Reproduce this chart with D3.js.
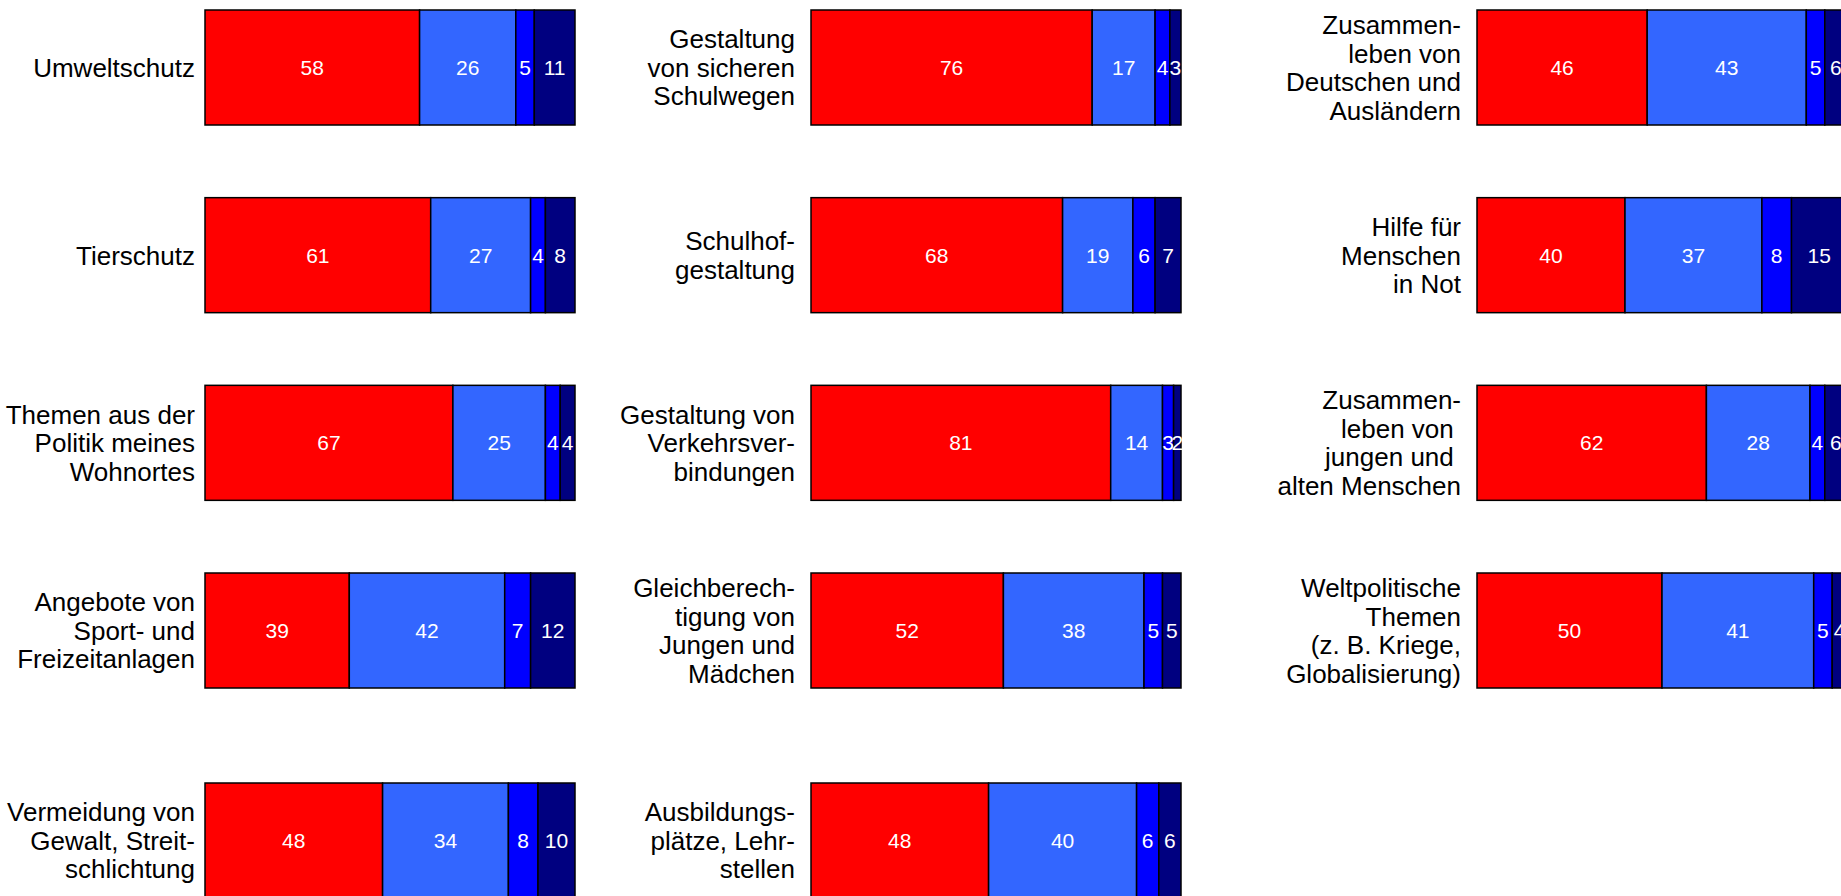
<!DOCTYPE html>
<html lang="de">
<head>
    <meta charset="UTF-8">
    <title>Themen</title>
    <style>
        html, body {
            margin: 0;
            padding: 0;
            background: #fff;
            overflow: hidden;
        }

        text {
            font-family: "Liberation Sans", Arial, sans-serif;
        }

        .topic text {
            font-size: 26px;
            fill: #000;
            white-space: pre;
        }

        .bars rect {
            stroke: #000;
            stroke-width: 1.5px;
        }

        .vals text {
            font-size: 21px;
            fill: #fff;
        }
    </style>
</head>
<body>
<svg id="svg" width="1841" height="896"></svg>
<script src="https://d3js.org/d3.v7.min.js"></script>
<script>
    // topic labels (line breaks as in the original)
    const topics = [
        "Umweltschutz",
        "Tierschutz",
        "Themen aus der\nPolitik meines\nWohnortes",
        "Angebote von\nSport- und\nFreizeitanlagen",
        "Vermeidung von\nGewalt, Streit-\nschlichtung",
        "Gestaltung\nvon sicheren\nSchulwegen",
        "Schulhof-\ngestaltung",
        "Gestaltung von\nVerkehrsver-\nbindungen",
        "Gleichberech-\ntigung von\nJungen und\nMädchen",
        "Ausbildungs-\nplätze, Lehr-\nstellen",
        "Zusammen-\nleben von\nDeutschen und\nAusländern",
        "Hilfe für\nMenschen\nin Not",
        "Zusammen-\nleben von \njungen und \nalten Menschen",
        "Weltpolitische\nThemen\n(z. B. Kriege,\nGlobalisierung)"
    ];

    // percentages, one array per answer category
    const sehrWichtig    = [58, 61, 67, 39, 48, 76, 68, 81, 52, 48, 46, 40, 62, 50];
    const wichtig        = [26, 27, 25, 42, 34, 17, 19, 14, 38, 40, 43, 37, 28, 41];
    const wenigerWichtig = [ 5,  4,  4,  7,  8,  4,  6,  3,  5,  6,  5,  8,  4,  5];
    const unwichtig      = [11,  8,  4, 12, 10,  3,  7,  2,  5,  6,  6, 15,  6,  4];

    const seriesColors = ["#ff0000", "#3366ff", "#0000ff", "#000080"];

    const svg = d3.select("svg");

    const perColumn = 5;
    const barH = 115;

    // panel placement (columns / rows of the grid)
    const colX = d3.scaleLinear().domain([0, 1, 2]).range([205, 811, 1477]);
    const rowY = d3.scaleLinear().domain([0, 3, 4]).range([10, 573, 783]);

    const x = d3.scaleLinear().domain([0, 100]).range([0, 370]);

    const rows = topics.map(function(t, i) {
        const vals = [sehrWichtig[i], wichtig[i], wenigerWichtig[i], unwichtig[i]];
        let acc = 0;
        const segs = vals.map(function(v, k) {
            const s = { start: acc, value: v, k: k };
            acc += v;
            return s;
        });
        return { label: t, segs: segs, col: Math.floor(i / perColumn), row: i % perColumn };
    });

    const panel = svg.selectAll("g.panel")
        .data(rows)
        .enter().append("g")
        .attr("class", "panel")
        .attr("transform", function(d) {
            return "translate(" + colX(d.col) + "," + rowY(d.row) + ")";
        });

    // labels left of the bar
    const topic = panel.append("g").attr("class", "topic");
    topic.each(function(d) {
        const lines = d.label.split("\n");
        const lh = 28.5;
        const lx = d.col === 0 ? -10 : -16;
        const t = d3.select(this).append("text")
            .attr("text-anchor", "end")
            .attr("x", lx);
        t.selectAll("tspan")
            .data(lines)
            .enter().append("tspan")
            .attr("x", lx)
            .attr("y", function(l, i) { return barH / 2 + (i - (lines.length - 1) / 2) * lh; })
            .attr("dy", "0.36em")
            .text(function(l) { return l; });
    });

    panel.append("g").attr("class", "bars")
        .selectAll("rect")
        .data(function(d) { return d.segs; })
        .enter().append("rect")
        .attr("x", function(s) { return x(s.start); })
        .attr("y", 0)
        .attr("width", function(s) { return x(s.value); })
        .attr("height", barH)
        .attr("fill", function(s) { return seriesColors[s.k]; });

    panel.append("g").attr("class", "vals")
        .selectAll("text")
        .data(function(d) { return d.segs; })
        .enter().append("text")
        .attr("text-anchor", "middle")
        .attr("x", function(s) { return x(s.start + s.value / 2); })
        .attr("y", barH / 2)
        .attr("dy", "0.36em")
        .text(function(s) { return s.value; });
</script>
</body>
</html>
